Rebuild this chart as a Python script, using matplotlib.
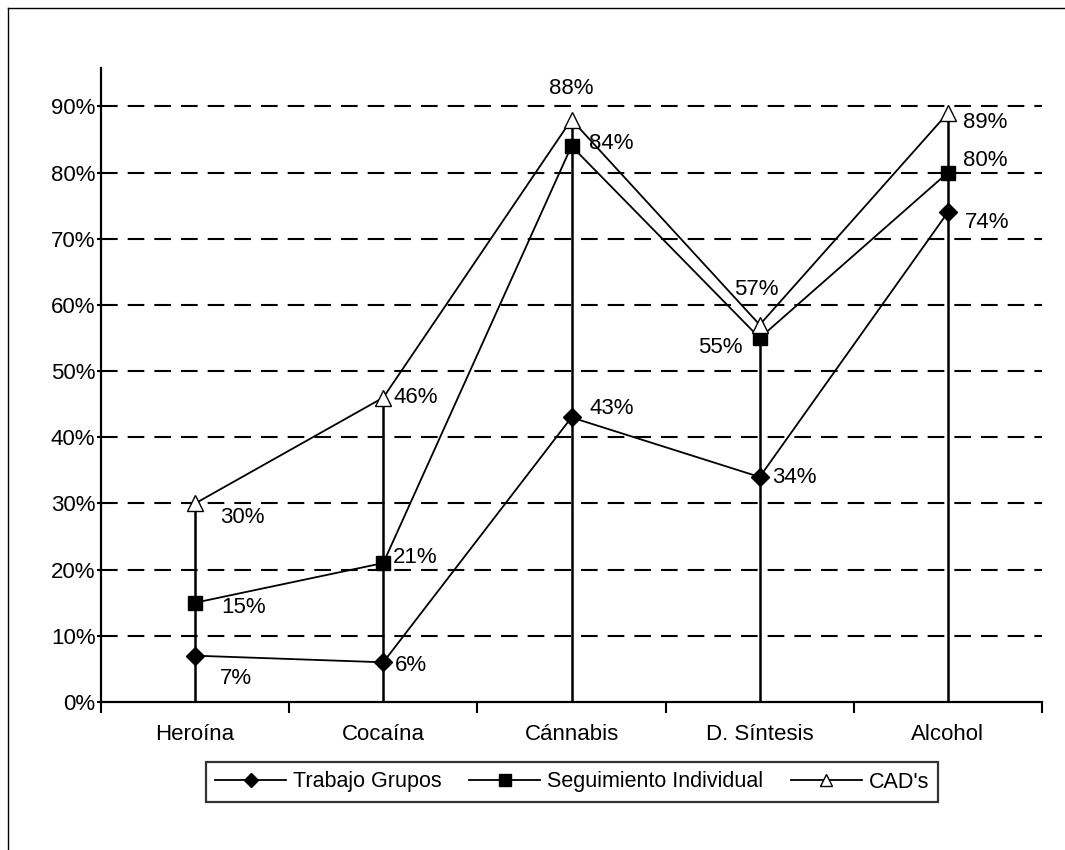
from __future__ import annotations

import matplotlib

matplotlib.use("Agg")
import matplotlib.pyplot as plt
from matplotlib.lines import Line2D
from matplotlib.ticker import FixedLocator, PercentFormatter

categories = ["Heroína", "Cocaína", "Cánnabis", "D. Síntesis", "Alcohol"]
trabajo_grupos = [7, 6, 43, 34, 74]
seguimiento_individual = [15, 21, 84, 55, 80]
cads = [30, 46, 88, 57, 89]
y_ticks = [0, 10, 20, 30, 40, 50, 60, 70, 80, 90]

# label offsets in pixels (dx, dy, ha) per point
label_pos = {
    "Trabajo Grupos": [(25, -23, "left"), (12, -3, "left"), (18, 9, "left"), (12, -1, "left"), (17, -10, "left")],
    "Seguimiento Individual": [(26, -5, "left"), (10, 6, "left"), (18, 3, "left"), (-17, -9, "right"), (15, 12, "left")],
    "CAD's": [(25, -14, "left"), (10, 0, "left"), (0, 31, "center"), (-3, 35, "center"), (15, -9, "left")],
}

FONT = ["Liberation Sans", "DejaVu Sans"]
NUM_SIZE = 16


def main() -> None:
    plt.rcParams["font.family"] = FONT
    fig = plt.figure(figsize=(10.65, 8.5), dpi=100)
    ax = fig.add_axes([101 / 1065, 1 - 702 / 850, (1042 - 101) / 1065, (702 - 68) / 850])

    xs = list(range(len(categories)))
    series = [
        ("Trabajo Grupos", trabajo_grupos, dict(marker="D", markersize=9, markerfacecolor="black")),
        ("Seguimiento Individual", seguimiento_individual, dict(marker="s", markersize=10, markerfacecolor="black")),
        ("CAD's", cads, dict(marker="^", markersize=11, markerfacecolor="white")),
    ]

    # dashed gridlines
    for y in y_ticks[1:]:
        ax.axhline(y, color="black", lw=1.5, ls=(0, (8, 4.8)), zorder=1)

    # high-low lines from zero to the top value
    tops = [max(vals) for vals in zip(trabajo_grupos, seguimiento_individual, cads)]
    ax.vlines(xs, 0, tops, color="black", lw=1.8, zorder=2)

    for name, vals, style in series:
        ax.plot(xs, vals, color="black", lw=1.3, markeredgecolor="black", markeredgewidth=1,
                label=name, zorder=3, **style)
        for x, v, (dx, dy, ha) in zip(xs, vals, label_pos[name]):
            ax.annotate(f"{v}%", (x, v), xytext=(dx, dy), textcoords="offset pixels",
                        ha=ha, va="center", fontsize=NUM_SIZE, zorder=4)

    ax.set_xlim(-0.5, len(categories) - 0.5)
    ax.set_ylim(0, 95.8)
    ax.set_yticks(y_ticks)
    ax.yaxis.set_major_formatter(PercentFormatter(decimals=0))
    ax.tick_params(axis="y", length=3, width=1.5, labelsize=NUM_SIZE, pad=1)

    ax.xaxis.set_major_locator(FixedLocator([i - 0.5 for i in range(len(categories) + 1)]))
    ax.xaxis.set_major_formatter(plt.NullFormatter())
    ax.xaxis.set_minor_locator(FixedLocator(xs))
    ax.set_xticklabels(categories, minor=True)
    ax.tick_params(axis="x", which="major", length=8, width=1.5)
    ax.tick_params(axis="x", which="minor", length=0, labelsize=16, pad=16)

    for side in ("top", "right"):
        ax.spines[side].set_visible(False)
    for side in ("left", "bottom"):
        ax.spines[side].set_linewidth(1.6)

    leg = fig.legend(loc="center", bbox_to_anchor=(572 / 1065, 1 - 782 / 850), ncol=3,
                     fontsize=15.5, frameon=True, fancybox=False, handlelength=3.3,
                     columnspacing=1.3, handletextpad=0.3, borderpad=0.45, markerscale=0.8,
                     borderaxespad=0)
    leg.get_frame().set_edgecolor("black")
    leg.get_frame().set_linewidth(1.6)

    # page frame from the scan
    fig.add_artist(Line2D([8 / 1065, 1], [1 - 8 / 850] * 2, color="black", lw=1, transform=fig.transFigure))
    fig.add_artist(Line2D([8 / 1065] * 2, [0, 1 - 8 / 850], color="black", lw=1, transform=fig.transFigure))

    fig.savefig("out.png", dpi=100)


if __name__ == "__main__":
    main()
